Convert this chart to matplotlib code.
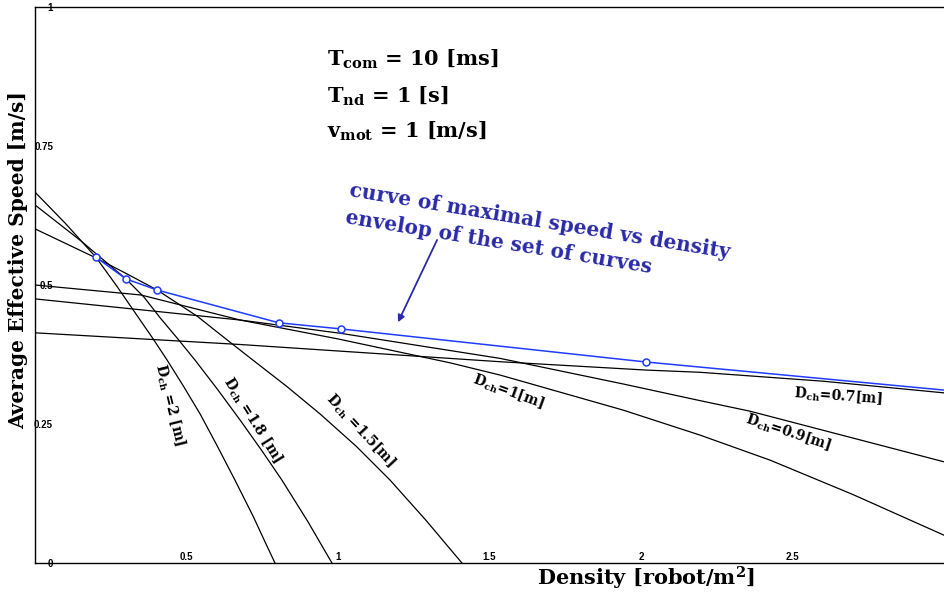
import matplotlib
matplotlib.use('Agg')
import matplotlib.pyplot as plt

plt.rcParams['mathtext.fontset'] = 'dejavuserif'

# curves of speed vs density for each D_ch
x_d20 = [0, 0.1, 0.201, 0.27, 0.347, 0.39, 0.436, 0.49, 0.545, 0.60, 0.660, 0.72, 0.76, 0.792]
y_d20 = [0.667, 0.611, 0.550, 0.498, 0.437, 0.403, 0.365, 0.318, 0.268, 0.212, 0.149, 0.084, 0.037, 0.0]

x_d18 = [0, 0.15, 0.300, 0.36, 0.413, 0.47, 0.528, 0.60, 0.677, 0.75, 0.815, 0.90, 0.980]
y_d18 = [0.644, 0.580, 0.511, 0.478, 0.441, 0.404, 0.365, 0.314, 0.257, 0.201, 0.149, 0.075, 0.0]

x_d15 = [0, 0.2, 0.3, 0.403, 0.535, 0.63, 0.719, 0.83, 0.941, 1.06, 1.172, 1.29, 1.409]
y_d15 = [0.601, 0.549, 0.521, 0.491, 0.444, 0.403, 0.365, 0.318, 0.268, 0.210, 0.149, 0.077, 0.0]

x_d10 = [0, 0.35, 0.677, 1.0, 1.37, 1.535, 1.941, 2.195, 2.426, 2.7, 3.0]
y_d10 = [0.500, 0.482, 0.437, 0.403, 0.360, 0.338, 0.275, 0.230, 0.185, 0.123, 0.050]

x_d09 = [0, 0.677, 1.01, 1.535, 1.941, 2.195, 2.36, 3.0]
y_d09 = [0.475, 0.437, 0.413, 0.368, 0.322, 0.292, 0.273, 0.182]

x_d07 = [0, 0.677, 1.535, 2.017, 2.195, 2.6, 3.0]
y_d07 = [0.414, 0.393, 0.362, 0.347, 0.343, 0.327, 0.306]

# envelope (maximal speed)
x_env = [0.201, 0.300, 0.403, 0.805, 1.01, 2.017, 3.0]
y_env = [0.550, 0.511, 0.491, 0.432, 0.421, 0.3615, 0.311]

yticks = [0, 0.25, 0.5, 0.75, 1]
ytick_labels = ['0', '0.25', '0.5', '0.75', '1']
xticks = [0, 0.5, 1, 1.5, 2, 2.5]
xtick_labels = ['', '0.5', '1', '1.5', '2', '2.5']

fig = plt.figure(figsize=(9.44, 5.94), dpi=100)
ax = fig.add_axes([35/944, 31/594, 909/944, 556/594])

for xs, ys in [(x_d20, y_d20), (x_d18, y_d18), (x_d15, y_d15),
               (x_d10, y_d10), (x_d09, y_d09), (x_d07, y_d07)]:
    ax.plot(xs, ys, color='black', lw=0.9)

blue = '#1f3cff'
ax.plot(x_env, y_env, color=blue, lw=1.1, marker='o', markersize=5,
        markerfacecolor='white', markeredgecolor=blue, markeredgewidth=1.1,
        markevery=list(range(len(x_env) - 1)), zorder=5)

ax.set_xlim(0, 3)
ax.set_ylim(0, 1)
ax.spines['right'].set_visible(False)
for s in ['left', 'bottom', 'top']:
    ax.spines[s].set_linewidth(1.0)

ax.set_yticks(yticks)
ax.set_yticklabels(ytick_labels)
ax.set_xticks(xticks)
ax.set_xticklabels(xtick_labels)
ax.tick_params(axis='y', length=0, pad=-13)
ax.tick_params(axis='x', length=0, pad=-0.5)
for lbl in ax.get_yticklabels():
    lbl.set_fontsize(7)
    lbl.set_fontweight('bold')
    lbl.set_family('Liberation Sans')
for lbl in ax.get_xticklabels():
    lbl.set_fontsize(7)
    lbl.set_fontweight('bold')
    lbl.set_family('Liberation Sans')
    lbl.set_va('bottom')

# axis labels
fig.text(18/944, 1 - 260/594, 'Average Effective Speed [m/s]', rotation=90,
         ha='center', va='center', fontsize=14.5, fontweight='bold', family='DejaVu Serif')
fig.text(646/944, 1 - 578/594, r'Density [robot/m$^\mathbf{2}$]',
         ha='center', va='center', fontsize=15, fontweight='bold', family='DejaVu Serif')

# parameters
par_kw = dict(ha='left', va='center', fontsize=15, fontweight='bold', family='DejaVu Serif')
ax.text(0.964, 0.905, r'$\mathbf{T_{com}}$ = 10 [ms]', **par_kw)
ax.text(0.964, 0.840, r'$\mathbf{T_{nd}}$ = 1 [s]', **par_kw)
ax.text(0.964, 0.777, r'$\mathbf{v_{mot}}$ = 1 [m/s]', **par_kw)

# D_ch labels
lab_kw = dict(ha='center', va='center', fontsize=10, fontweight='bold',
              family='DejaVu Serif', rotation_mode='anchor')
ax.text(0.446, 0.284, r'$\mathbf{D_{ch}}$ =2 [m]', rotation=-76, **lab_kw)
ax.text(0.719, 0.257, r'$\mathbf{D_{ch}}$ =1.8 [m]', rotation=-58, **lab_kw)
ax.text(1.073, 0.239, r'$\mathbf{D_{ch}}$ =1.5[m]', rotation=-47, **lab_kw)
ax.text(1.561, 0.308, r'$\mathbf{D_{ch}}$=1[m]', rotation=-20, **lab_kw)
ax.text(2.485, 0.234, r'$\mathbf{D_{ch}}$=0.9[m]', rotation=-18, **lab_kw)
ax.text(2.650, 0.300, r'$\mathbf{D_{ch}}$=0.7[m]', rotation=-4, **lab_kw)

# envelope annotation
dark_blue = '#2a2aa8'
ann_kw = dict(ha='left', va='baseline', fontsize=14.5, fontweight='bold', color=dark_blue,
              family='DejaVu Serif', rotation=-9.3, rotation_mode='anchor')
ax.text(1.036, 0.660, 'curve of maximal speed vs density', **ann_kw)
ax.text(1.023, 0.612, 'envelop of the set of curves', **ann_kw)
ax.annotate('', xy=(1.198, 0.433), xytext=(1.327, 0.581),
            arrowprops=dict(arrowstyle='-|>', color=dark_blue, lw=1.3,
                            mutation_scale=10, shrinkA=0, shrinkB=0))

plt.savefig('out.png', dpi=100)
